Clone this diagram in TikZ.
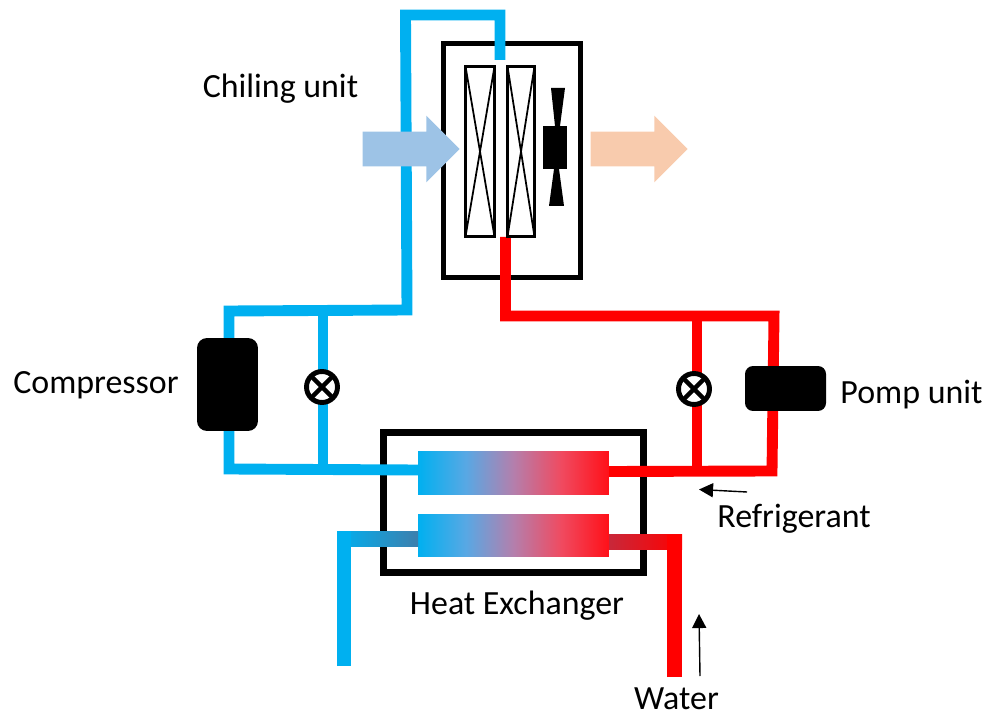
\documentclass[tikz,border=0pt]{standalone}
\usepackage{xcolor}
\usepackage{fontspec}
\setmainfont{Carlito}
\usepackage{tikz}
\usetikzlibrary{arrows.meta,shapes.arrows,backgrounds}
\definecolor{coldpipe}{HTML}{00B0F0}
\definecolor{hotpipe}{HTML}{FF0000}
\definecolor{mixone}{HTML}{58A8E4}
\definecolor{mixtwo}{HTML}{B47FAC}
\definecolor{mixthree}{HTML}{F04A60}
\definecolor{mixfour}{HTML}{FF1018}
\definecolor{airin}{HTML}{9DC3E6}
\definecolor{airout}{HTML}{F8CBAD}
\definecolor{coldshade}{HTML}{3D7FAD}
\definecolor{hotshade}{HTML}{C8283A}
\pgfdeclarehorizontalshading{exchshade}{100bp}{
  color(0bp)=(coldpipe); color(25bp)=(coldpipe); color(37.5bp)=(mixone);
  color(50bp)=(mixtwo); color(62.5bp)=(mixthree); color(75bp)=(mixfour);
  color(100bp)=(mixfour)}
\tikzset{
  unitbox/.style={
    rectangle, draw=black, line width=#1, inner sep=0pt, outer sep=0pt
  },
  unitbox/.default=2.8pt,
  coilbox/.style={
    rectangle, draw=black, fill=white, line width=1.7pt,
    minimum height=3.4cm, inner sep=0pt, outer sep=0pt
  },
  machine/.style={
    rectangle, fill=black, inner sep=0pt, outer sep=0pt
  },
  valvenode/.style={
    circle, draw=black, fill=white, line width=2.8pt,
    minimum size=0.62cm, inner sep=0pt, outer sep=0pt
  },
  valvecross/.style={line width=2.6pt, draw=black},
  coilcross/.style={line width=1pt, draw=black},
  pipe/.style={draw=#1, line width=6.2pt},
  pipe/.default=coldpipe,
  waterpipe/.style={draw=#1, line width=8pt},
  exchbar/.style={
    rectangle, shading=exchshade,
    minimum width=3.82cm, inner sep=0pt, outer sep=0pt
  },
  airarrow/.style={
    single arrow, fill=#1, minimum height=1.94cm, inner sep=0.34cm,
    single arrow head extend=0.32cm, shape border rotate=0, outer sep=0pt
  },
  note/.style={font=\fontsize{19.3}{21}\selectfont, inner sep=0pt},
  thinarrow/.style={-{Triangle[length=8pt,width=8pt]}, line width=0.8pt, black},
}
\begin{document}
\begin{tikzpicture}[x=0.02cm,y=-0.02cm]
\useasboundingbox (0,0) rectangle (986,712);
% housings sit under the pipes
\begin{scope}[on background layer]
\node[unitbox, minimum width=2.74cm, minimum height=4.68cm] (chiller) at (512,160.5) {};
\node[unitbox=4pt, minimum width=5.2cm, minimum height=2.8cm] (exchanger) at (513.5,502.5) {};
\end{scope}
\node[coilbox, minimum width=0.58cm] (coilA) at (480,151.5) {};
\node[coilbox, minimum width=0.54cm] (coilB) at (521,151.5) {};
\draw[coilcross] (coilA.north west) -- (coilA.south east);
\draw[coilcross] (coilA.north east) -- (coilA.south west);
\draw[coilcross] (coilB.north west) -- (coilB.south east);
\draw[coilcross] (coilB.north east) -- (coilB.south west);
\node[machine, minimum width=0.48cm, minimum height=0.86cm] (fanhub) at (555,147.5) {};
\fill (551,88) -- (565,88) -- (560,126) -- (555,126) -- cycle;
\fill (554,169) -- (559,169) -- (564,206) -- (549,206) -- cycle;
\node[airarrow=airin] (airleft) at (402.5,149) {};
\node[airarrow=airout] (airright) at (630.5,149) {};
\node[exchbar, minimum height=0.88cm] (barup) at (513.5,473) {};
\node[exchbar, minimum height=0.86cm] (barlow) at (513.5,535.5) {};
\node[machine, rounded corners=0.2cm, minimum width=1.22cm, minimum height=1.86cm] (compressor) at (227.5,384.5) {};
\node[machine, rounded corners=0.16cm, minimum width=1.62cm, minimum height=0.9cm] (pump) at (785.5,388.5) {};
\node[valvenode] (valveL) at (322,387) {};
\node[valvenode] (valveR) at (694,389) {};
\draw[valvecross] (valveL.45) -- (valveL.225);
\draw[valvecross] (valveL.135) -- (valveL.315);
\draw[valvecross] (valveR.45) -- (valveR.225);
\draw[valvecross] (valveR.135) -- (valveR.315);
\coordinate (coldend) at (500,60);
\coordinate (hotend) at (505.5,237);
\coordinate (waterin) at (344,666);
\coordinate (waterout) at (674.5,677);
% refrigerant loop
\begin{scope}[on background layer]
\draw[pipe] ([yshift=0.06cm]barup.west) -- (229,469) -- (229,311) -- (407,310) -- (405.5,15) -- (500,15) -- (coldend);
\draw[pipe] (323,311) -- (323,469);
\draw[pipe=hotpipe] ([yshift=0.03cm]barup.east) -- (772,471) -- (774,316) -- (505.5,316) -- (hotend);
\draw[pipe=hotpipe] (697,316) -- (697,471);
\end{scope}
% water side
\shade[left color=coldpipe, right color=coldshade] (337,531) rectangle (418,546);
\shade[left color=hotshade, right color=hotpipe] (609,534.5) rectangle (682,549);
\draw[waterpipe=coldpipe] (waterin) -- (344,531);
\draw[waterpipe=hotpipe] (waterout) -- (674.5,534.5);
% labels
\node[note] (chillabel) at (280.5,89) {Chiling unit};
\node[note] (complabel) at (96,385) {Compressor};
\node[note] (pumplabel) at (911.5,395) {Pomp unit};
\node[note] (reflabel) at (794,519) {Refrigerant};
\node[note] (hxlabel) at (517,605.5) {Heat Exchanger};
\node[note] (waterlabel) at (676.5,699) {Water};
\coordinate (reftail) at (747,492);
\coordinate (reftip) at (699,489.5);
\coordinate (watertail) at (700,676);
\coordinate (watertip) at (699,614);
\draw[thinarrow] (reftail) -- (reftip);
\draw[thinarrow] (watertail) -- (watertip);
\end{tikzpicture}
\end{document}
